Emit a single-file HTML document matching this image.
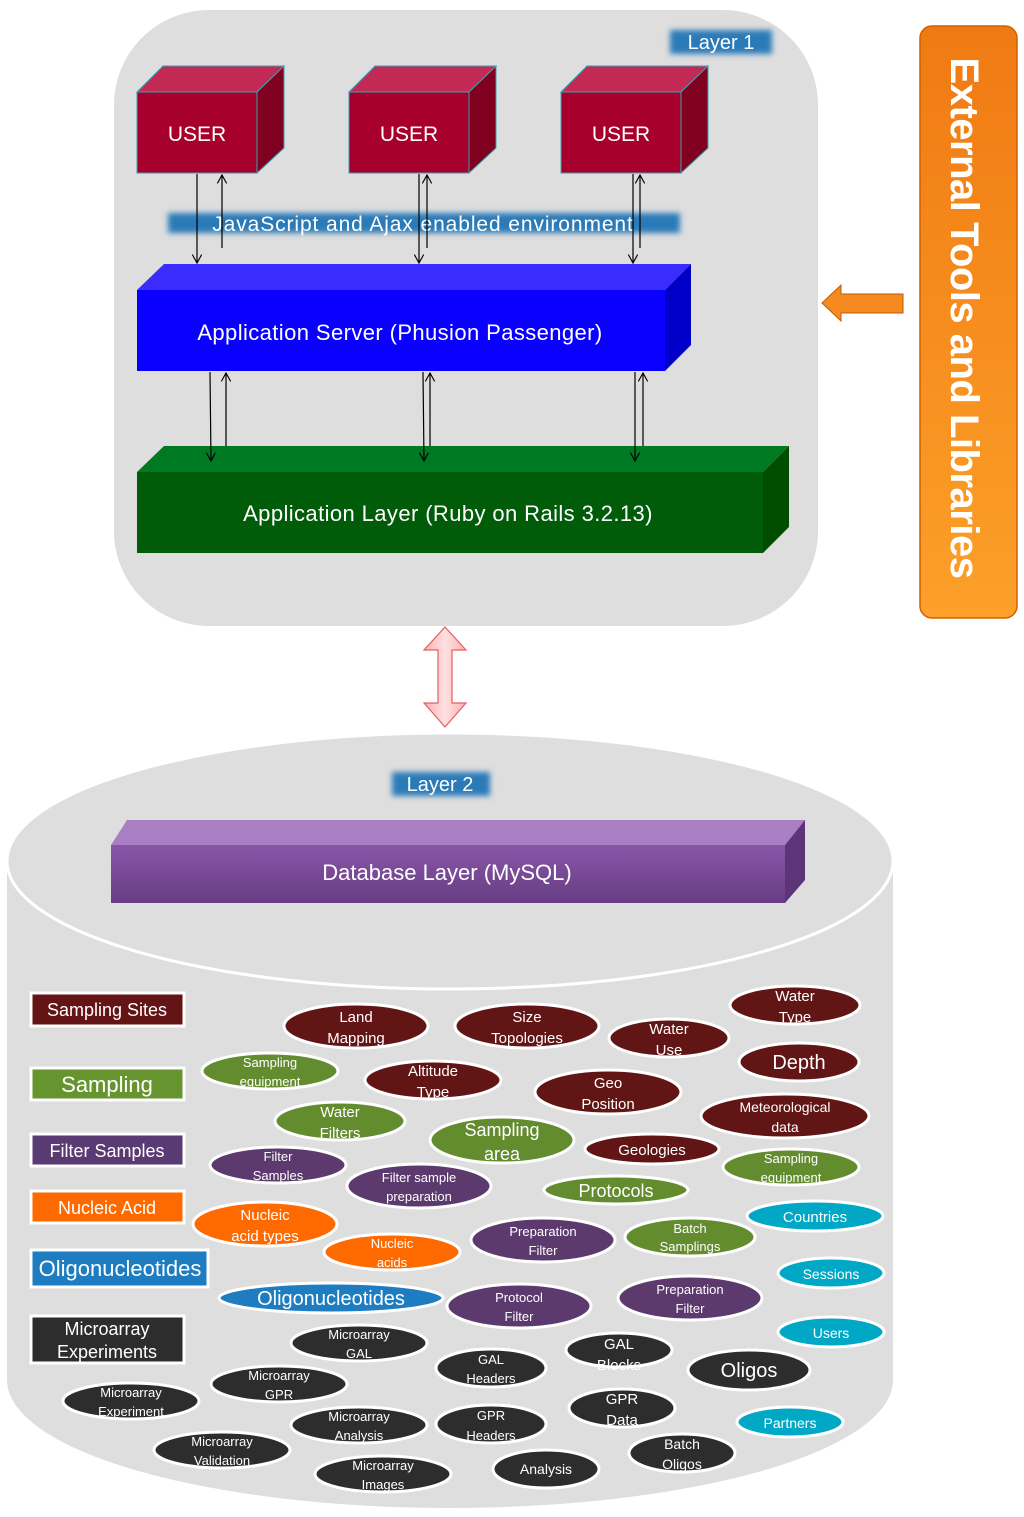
<!DOCTYPE html>
<html><head><meta charset="utf-8"><style>
html,body{margin:0;padding:0;background:#fff;}
svg{display:block;}
text{font-family:"Liberation Sans",sans-serif;fill:#fff;text-anchor:middle;}
</style></head><body>
<svg width="1024" height="1517" viewBox="0 0 1024 1517" xmlns="http://www.w3.org/2000/svg">
<defs>
<filter id="blur" x="-20%" y="-50%" width="140%" height="200%"><feGaussianBlur stdDeviation="3"/></filter>
<linearGradient id="og" x1="0" y1="0" x2="0" y2="1"><stop offset="0" stop-color="#f07a12"/><stop offset="1" stop-color="#fca02a"/></linearGradient>
<linearGradient id="pk" x1="0" y1="0" x2="1" y2="0"><stop offset="0" stop-color="#ffb0b0"/><stop offset="0.5" stop-color="#ffe0e0"/><stop offset="1" stop-color="#ffb0b0"/></linearGradient>
<linearGradient id="pu" x1="0" y1="0" x2="0" y2="1"><stop offset="0" stop-color="#8a56a8"/><stop offset="1" stop-color="#673d84"/></linearGradient>
<marker id="ah" viewBox="0 0 10 10" refX="9" refY="5" markerWidth="8" markerHeight="8" orient="auto-start-reverse"><path d="M0,0 L9,5 L0,10" fill="none" stroke="#000" stroke-width="1.2"/></marker>
</defs>

<rect x="114" y="10" width="704" height="616" rx="95" ry="95" fill="#dedede"/>
<rect x="670" y="30" width="102" height="24" fill="#2a7ab8" filter="url(#blur)"/>
<text x="721" y="49" font-size="20">Layer 1</text>

<g stroke="#3aa0b0" stroke-width="1">
<polygon points="137,92 163,66 284,66 257,92" fill="#c22a55"/>
<polygon points="257,92 284,66 284,148 257,173" fill="#80001f"/>
<rect x="137" y="92" width="120" height="81" fill="#a8002d"/>
<polygon points="349,92 375,66 496,66 469,92" fill="#c22a55"/>
<polygon points="469,92 496,66 496,148 469,173" fill="#80001f"/>
<rect x="349" y="92" width="120" height="81" fill="#a8002d"/>
<polygon points="561,92 587,66 708,66 681,92" fill="#c22a55"/>
<polygon points="681,92 708,66 708,148 681,173" fill="#80001f"/>
<rect x="561" y="92" width="120" height="81" fill="#a8002d"/>
</g>
<text x="197" y="141" font-size="21">USER</text>
<text x="409" y="141" font-size="21">USER</text>
<text x="621" y="141" font-size="21">USER</text>

<rect x="168" y="213" width="512" height="20" fill="#2a7ab8" filter="url(#blur)"/>
<text x="423" y="231" font-size="21" style="letter-spacing:0.9px">JavaScript and Ajax enabled environment</text>

<polygon points="137,290 164,264 691,264 665,290" fill="#3a2cff"/>
<polygon points="665,290 691,264 691,345 665,371" fill="#0000c8"/>
<rect x="137" y="290" width="528" height="81" fill="#0a00ff"/>
<text x="400" y="340" font-size="22" style="letter-spacing:0.4px">Application Server (Phusion Passenger)</text>

<polygon points="137,472 164,446 789,446 763,472" fill="#007a22"/>
<polygon points="763,472 789,446 789,527 763,553" fill="#004d00"/>
<rect x="137" y="472" width="626" height="81" fill="#005c08"/>
<text x="448" y="521" font-size="22" style="letter-spacing:0.4px">Application Layer (Ruby on Rails 3.2.13)</text>

<g stroke="#000" stroke-width="1.2" fill="none">
<line x1="197" y1="174" x2="197" y2="263" marker-end="url(#ah)"/>
<line x1="222" y1="248" x2="222" y2="175" marker-end="url(#ah)"/>
<line x1="419" y1="174" x2="419" y2="263" marker-end="url(#ah)"/>
<line x1="427" y1="248" x2="427" y2="175" marker-end="url(#ah)"/>
<line x1="633" y1="174" x2="633" y2="263" marker-end="url(#ah)"/>
<line x1="640" y1="248" x2="640" y2="175" marker-end="url(#ah)"/>
<line x1="210" y1="372" x2="211" y2="461" marker-end="url(#ah)"/>
<line x1="226" y1="446" x2="226" y2="373" marker-end="url(#ah)"/>
<line x1="423" y1="372" x2="424" y2="461" marker-end="url(#ah)"/>
<line x1="430" y1="446" x2="430" y2="373" marker-end="url(#ah)"/>
<line x1="635" y1="372" x2="635" y2="461" marker-end="url(#ah)"/>
<line x1="643" y1="446" x2="643" y2="373" marker-end="url(#ah)"/>
</g>

<rect x="920" y="26" width="97" height="592" rx="12" fill="url(#og)" stroke="#d06000" stroke-width="1.5"/>
<text transform="translate(951,318) rotate(90)" font-size="40" font-weight="bold" style="letter-spacing:-0.5px">External Tools and Libraries</text>
<polygon points="822,303 841,285 841,294 903,294 903,313 841,313 841,321" fill="#f58a1f" stroke="#c05a00" stroke-width="1"/>

<polygon points="445,627 466,650 452,650 452,703 466,703 445,727 424,703 438,703 438,650 424,650" fill="url(#pk)" stroke="#e06060" stroke-width="1.2"/>

<path d="M7,861 L7,1380 A443,128 0 0 0 893,1380 L893,861 Z" fill="#dedede"/>
<ellipse cx="450" cy="861" rx="443" ry="128" fill="#dedede" stroke="#fff" stroke-width="3"/>
<rect x="392" y="772" width="98" height="24" fill="#2a7ab8" filter="url(#blur)"/>
<text x="440" y="791" font-size="20">Layer 2</text>

<polygon points="111,845 127,820 805,820 785,845" fill="#a87fc2"/>
<polygon points="785,845 805,820 805,880 785,903" fill="#5c3477"/>
<rect x="111" y="845" width="674" height="58" fill="url(#pu)"/>
<text x="447" y="880" font-size="22">Database Layer (MySQL)</text>

<g stroke="#fff" stroke-width="3">
<rect x="31" y="993" width="153" height="33" fill="#641414"/>
<rect x="31" y="1068" width="153" height="32" fill="#66942f"/>
<rect x="31" y="1134" width="153" height="32" fill="#5a3a72"/>
<rect x="31" y="1191" width="153" height="32" fill="#ff6a00"/>
<rect x="31" y="1250" width="177" height="37" fill="#1e7cc0"/>
<rect x="31" y="1316" width="153" height="47" fill="#2d2d2d"/>
</g>
<text x="107" y="1016" font-size="18">Sampling Sites</text>
<text x="107" y="1092" font-size="22">Sampling</text>
<text x="107" y="1157" font-size="18">Filter Samples</text>
<text x="107" y="1214" font-size="18">Nucleic Acid</text>
<text x="120" y="1276" font-size="22">Oligonucleotides</text>
<text x="107" y="1335" font-size="18">Microarray</text>
<text x="107" y="1358" font-size="18">Experiments</text>

<g stroke="#fff" stroke-width="3">
<ellipse cx="356" cy="1026" rx="72" ry="22" fill="#621515"/>
<ellipse cx="527" cy="1026" rx="72" ry="22" fill="#621515"/>
<ellipse cx="669" cy="1038" rx="60" ry="19" fill="#621515"/>
<ellipse cx="795" cy="1005" rx="65" ry="19" fill="#621515"/>
<ellipse cx="799" cy="1062" rx="60" ry="19" fill="#621515"/>
<ellipse cx="270" cy="1071" rx="68" ry="18" fill="#638c2f"/>
<ellipse cx="433" cy="1080" rx="68" ry="19" fill="#621515"/>
<ellipse cx="608" cy="1092" rx="73" ry="22" fill="#621515"/>
<ellipse cx="785" cy="1116" rx="84" ry="22" fill="#621515"/>
<ellipse cx="340" cy="1121" rx="65" ry="19" fill="#638c2f"/>
<ellipse cx="502" cy="1140" rx="72" ry="23" fill="#638c2f"/>
<ellipse cx="652" cy="1149" rx="67" ry="15" fill="#621515"/>
<ellipse cx="791" cy="1167" rx="68" ry="18" fill="#638c2f"/>
<ellipse cx="278" cy="1165" rx="68" ry="18" fill="#5c3a6e"/>
<ellipse cx="419" cy="1186" rx="72" ry="22" fill="#5c3a6e"/>
<ellipse cx="616" cy="1190" rx="72" ry="14" fill="#638c2f"/>
<ellipse cx="815" cy="1216" rx="68" ry="15" fill="#00a8c6"/>
<ellipse cx="265" cy="1224" rx="72" ry="22" fill="#ff6a00"/>
<ellipse cx="392" cy="1252" rx="68" ry="18" fill="#ff6a00"/>
<ellipse cx="543" cy="1240" rx="72" ry="22" fill="#5c3a6e"/>
<ellipse cx="690" cy="1237" rx="65" ry="19" fill="#638c2f"/>
<ellipse cx="831" cy="1273" rx="53" ry="15" fill="#00a8c6"/>
<ellipse cx="331" cy="1298" rx="112" ry="15" fill="#1e7cc0"/>
<ellipse cx="519" cy="1306" rx="72" ry="22" fill="#5c3a6e"/>
<ellipse cx="690" cy="1298" rx="72" ry="22" fill="#5c3a6e"/>
<ellipse cx="831" cy="1332" rx="53" ry="15" fill="#00a8c6"/>
<ellipse cx="359" cy="1343" rx="68" ry="18" fill="#2d2d2d"/>
<ellipse cx="491" cy="1368" rx="55" ry="19" fill="#2d2d2d"/>
<ellipse cx="619" cy="1350" rx="53" ry="17" fill="#2d2d2d"/>
<ellipse cx="749" cy="1370" rx="61" ry="20" fill="#2d2d2d"/>
<ellipse cx="279" cy="1384" rx="68" ry="18" fill="#2d2d2d"/>
<ellipse cx="131" cy="1401" rx="68" ry="18" fill="#2d2d2d"/>
<ellipse cx="359" cy="1425" rx="68" ry="18" fill="#2d2d2d"/>
<ellipse cx="491" cy="1424" rx="55" ry="19" fill="#2d2d2d"/>
<ellipse cx="622" cy="1408" rx="53" ry="19" fill="#2d2d2d"/>
<ellipse cx="790" cy="1422" rx="53" ry="15" fill="#00a8c6"/>
<ellipse cx="222" cy="1450" rx="68" ry="18" fill="#2d2d2d"/>
<ellipse cx="383" cy="1474" rx="68" ry="18" fill="#2d2d2d"/>
<ellipse cx="546" cy="1469" rx="53" ry="19" fill="#2d2d2d"/>
<ellipse cx="682" cy="1453" rx="53" ry="19" fill="#2d2d2d"/>
</g>
<g font-size="15">
<text x="356" y="1022">Land</text><text x="356" y="1043">Mapping</text>
<text x="527" y="1022">Size</text><text x="527" y="1043">Topologies</text>
<text x="669" y="1034">Water</text><text x="669" y="1055">Use</text>
<text x="795" y="1001">Water</text><text x="795" y="1022">Type</text>
<text x="799" y="1069" font-size="20">Depth</text>
<text x="270" y="1067" font-size="13">Sampling</text><text x="270" y="1086" font-size="13">equipment</text>
<text x="433" y="1076">Altitude</text><text x="433" y="1097">Type</text>
<text x="608" y="1088">Geo</text><text x="608" y="1109">Position</text>
<text x="785" y="1112" font-size="14">Meteorological</text><text x="785" y="1132" font-size="14">data</text>
<text x="340" y="1117">Water</text><text x="340" y="1138">Filters</text>
<text x="502" y="1136" font-size="18">Sampling</text><text x="502" y="1160" font-size="18">area</text>
<text x="652" y="1155">Geologies</text>
<text x="791" y="1163" font-size="13">Sampling</text><text x="791" y="1182" font-size="13">equipment</text>
<text x="278" y="1161" font-size="13">Filter</text><text x="278" y="1180" font-size="13">Samples</text>
<text x="419" y="1182" font-size="13">Filter sample</text><text x="419" y="1201" font-size="13">preparation</text>
<text x="616" y="1197" font-size="18">Protocols</text>
<text x="815" y="1222">Countries</text>
<text x="265" y="1220">Nucleic</text><text x="265" y="1241">acid types</text>
<text x="392" y="1248" font-size="13">Nucleic</text><text x="392" y="1267" font-size="13">acids</text>
<text x="543" y="1236" font-size="13">Preparation</text><text x="543" y="1255" font-size="13">Filter</text>
<text x="690" y="1233" font-size="13">Batch</text><text x="690" y="1251" font-size="13">Samplings</text>
<text x="831" y="1279" font-size="14">Sessions</text>
<text x="331" y="1305" font-size="20">Oligonucleotides</text>
<text x="519" y="1302" font-size="13">Protocol</text><text x="519" y="1321" font-size="13">Filter</text>
<text x="690" y="1294" font-size="13">Preparation</text><text x="690" y="1313" font-size="13">Filter</text>
<text x="831" y="1338" font-size="14">Users</text>
<text x="359" y="1339" font-size="13">Microarray</text><text x="359" y="1358" font-size="13">GAL</text>
<text x="491" y="1364" font-size="13">GAL</text><text x="491" y="1383" font-size="13">Headers</text>
<text x="619" y="1349">GAL</text><text x="619" y="1370">Blocks</text>
<text x="749" y="1377" font-size="20">Oligos</text>
<text x="279" y="1380" font-size="13">Microarray</text><text x="279" y="1399" font-size="13">GPR</text>
<text x="131" y="1397" font-size="13">Microarray</text><text x="131" y="1416" font-size="13">Experiment</text>
<text x="359" y="1421" font-size="13">Microarray</text><text x="359" y="1440" font-size="13">Analysis</text>
<text x="491" y="1420" font-size="13">GPR</text><text x="491" y="1440" font-size="13">Headers</text>
<text x="622" y="1404">GPR</text><text x="622" y="1425">Data</text>
<text x="790" y="1428" font-size="14">Partners</text>
<text x="222" y="1446" font-size="13">Microarray</text><text x="222" y="1465" font-size="13">Validation</text>
<text x="383" y="1470" font-size="13">Microarray</text><text x="383" y="1489" font-size="13">Images</text>
<text x="546" y="1474" font-size="14">Analysis</text>
<text x="682" y="1449" font-size="14">Batch</text><text x="682" y="1469" font-size="14">Oligos</text>
</g>
</svg>
</body></html>
